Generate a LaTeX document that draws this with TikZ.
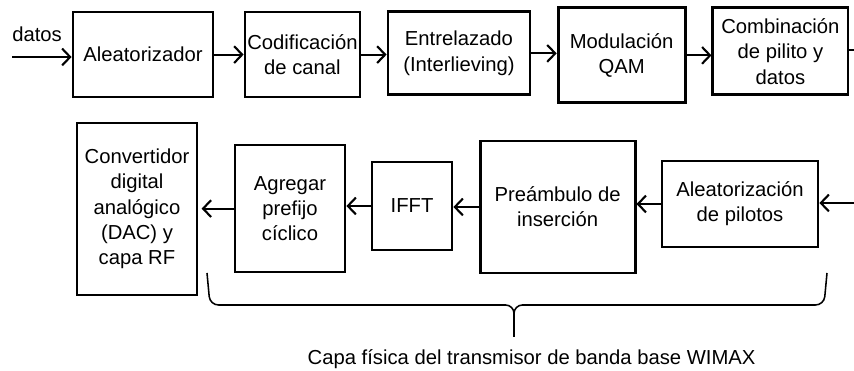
\documentclass[tikz,border=0pt]{standalone}
\usepackage{fontspec}
\setmainfont{Liberation Sans}
\usetikzlibrary{arrows.meta}
\tikzset{
	bloque/.style={draw, line width=2pt, align=center, inner sep=0pt, font=\fontsize{14.4}{18}\selectfont},
	flecha/.style={line width=1.5pt, -{Straight Barb[length=2mm,width=4.2mm]}},
	texto/.style={inner sep=0pt, font=\fontsize{14.4}{18}\selectfont}
}
\begin{document}
\begin{tikzpicture}
		%%%%% START %%%%%
		\useasboundingbox (0, 0) rectangle (21.35, 9.275);
		
		% fila superior
		\node[bloque, minimum width=3.5cm, minimum height=2.125cm] (alea) at (3.575, 7.91) {Aleatorizador};
		\node[bloque, minimum width=2.875cm, minimum height=2.125cm] (codif) at (7.5625, 7.91) {Codificación\\de canal};
		\node[bloque, minimum width=3.55cm, minimum height=2.075cm] (entrel) at (11.475, 7.94) {Entrelazado\\(Interlieving)};
		\node[bloque, minimum width=3.175cm, minimum height=2.375cm] (modul) at (15.54, 7.89) {Modulación\\QAM};
		\node[bloque, minimum width=3.375cm, minimum height=2.175cm] (combin) at (19.51, 7.99) {Combinación\\de pilito y\\datos};
		
		\coordinate (entrada) at (0.3, 7.85);
		\node[texto, anchor=base west] (datos) at (0.3, 8.225) {datos};
		\draw[flecha] (entrada) -- (entrada -| alea.west);
		\draw[flecha] (alea.east) -- (alea.east -| codif.west);
		\draw[flecha] (codif.east) -- (codif.east -| entrel.west);
		\draw[flecha] (entrel.east) -- (entrel.east -| modul.west);
		\draw[flecha] (modul.east) -- (modul.east -| combin.west);
		\coordinate (salida) at (21.35, 8.025);
		\draw[line width=1.5pt] (combin.east |- salida) -- (salida);
		
		% fila inferior
		\node[bloque, minimum width=3.0cm, minimum height=4.3cm] (conv) at (3.425, 4.05) {Convertidor\\digital\\analógico\\(DAC) y\\capa RF};
		\node[bloque, minimum width=2.75cm, minimum height=3.175cm] (agreg) at (7.25, 4.06) {Agregar\\prefijo\\cíclico};
		\node[bloque, minimum width=2.0cm, minimum height=2.2cm] (ifft) at (10.3, 4.125) {IFFT};
		\node[bloque, minimum width=3.875cm, minimum height=3.3cm] (pream) at (13.94, 4.1) {Preámbulo de\\inserción};
		\node[bloque, minimum width=3.9cm, minimum height=2.15cm] (aleap) at (18.5, 4.175) {Aleatorización\\de pilotos};
		
		\coordinate (retorno) at (21.35, 4.2);
		\draw[flecha] (retorno) -- (retorno -| aleap.east);
		\draw[flecha] (aleap.west) -- (aleap.west -| pream.east);
		\draw[flecha] (pream.west) -- (pream.west -| ifft.east);
		\draw[flecha] (ifft.west) -- (ifft.west -| agreg.east);
		\draw[flecha, shorten >=0.08cm] (agreg.west) -- (agreg.west -| conv.east);
		
		% llave
		\draw[line width=1.1pt, rounded corners=6pt] (5.175, 2.45) -- (5.25, 1.65) -- (12.85, 1.65) -- (12.85, 0.85);
		\draw[line width=1.1pt, rounded corners=6pt] (20.675, 2.45) -- (20.6, 1.65) -- (12.85, 1.65) -- (12.85, 0.85);
		\node[texto, anchor=base] (leyenda) at (13.29, 0.15) {Capa física del transmisor de banda base WIMAX};
		%%%%% END %%%%%
	\end{tikzpicture}
\end{document}
